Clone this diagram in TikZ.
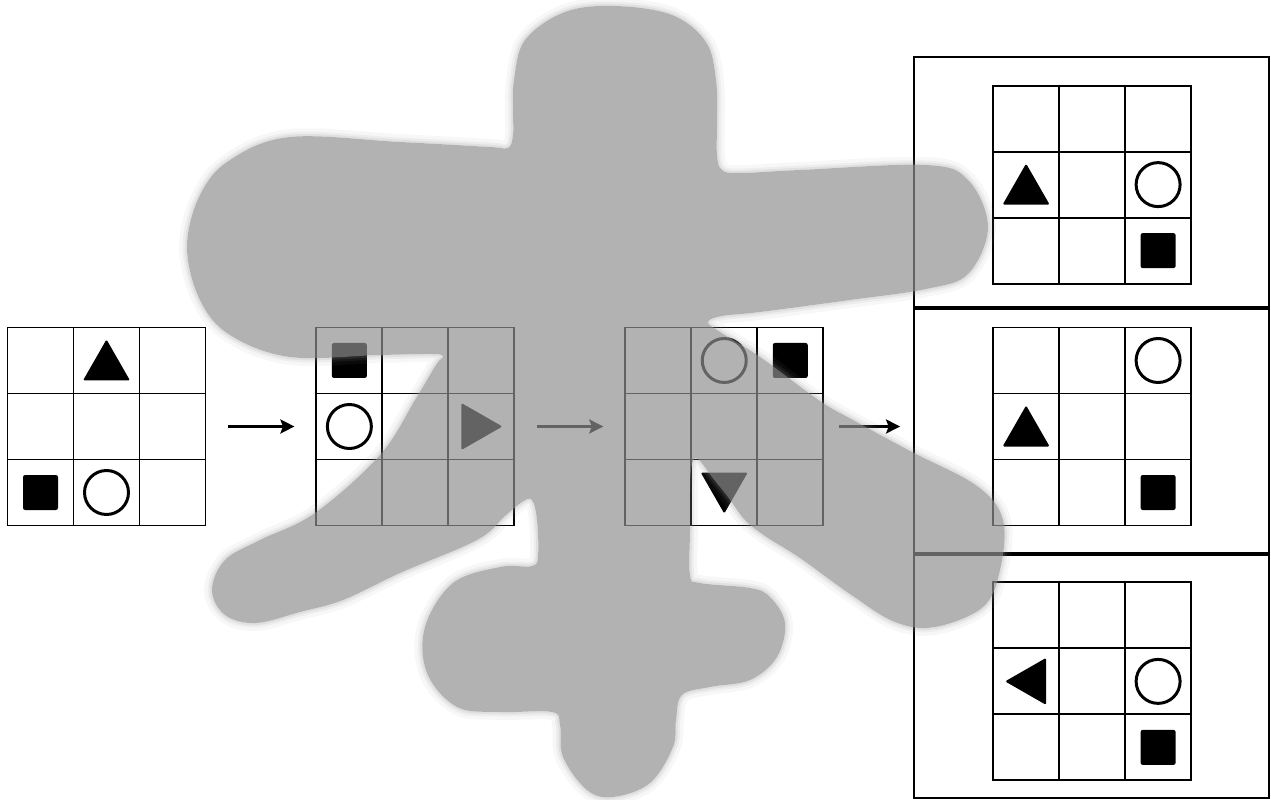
\documentclass[tikz,border=0pt]{standalone}
\usepackage{tikz}
\usetikzlibrary{positioning, arrows.meta, calc}

\definecolor{blobgray}{gray}{0.565}

\newcommand{\putsq}[3]{\fill [piece, rounded corners=1.2pt] ($(#1)+({(#3-1)*66-17.5},{(#2-1)*66-17.5})$) rectangle ++(35,35);}
\newcommand{\putring}[3]{\draw [ring] ($(#1)+({(#3-1)*66},{(#2-1)*66})$) circle [radius=0.44cm];}
\newcommand{\puttri}[4]{\fill [piece, rounded corners=0.8pt, shift={($(#1)+({(#3-1)*66},{(#2-1)*66})$)}, rotate=#4] (0,-21) -- (23.5,20) -- (-23.5,20) -- cycle;}

\def\blobpath{plot [smooth cycle, tension=0.6] coordinates {(615,6) (672,15) (706,42) (716,80) (717,120) (717,155) (722,170) (740,173) (800,170) (926,165) (968,180) (988,227) (968,274) (926,289) (850,300) (760,312) (722,316) (708,322) (720,332) (760,357) (820,401) (853,420) (912,452) (977,486) (1003,520) (1000,570) (983,607) (935,627) (895,622) (850,594) (800,558) (765,536) (745,520) (728,497) (712,477) (698,459) (692,464) (690,490) (690,530) (690,575) (700,583) (750,588) (770,597) (785,623) (777,657) (750,680) (710,687) (682,695) (676,720) (673,747) (650,783) (613,797) (587,790) (563,757) (560,725) (552,712) (500,712) (457,707) (427,673) (425,627) (453,583) (500,567) (532,566) (538,555) (537,520) (532,500) (522,502) (505,516) (477,540) (400,573) (343,600) (300,612) (256,623) (225,615) (212,590) (225,560) (260,540) (315,513) (380,455) (415,400) (436,365) (443,356) (430,354) (380,355) (290,357) (230,335) (200,300) (187,247) (200,195) (230,160) (290,137) (400,142) (490,147) (508,148) (513,135) (513,110) (514,80) (525,40) (565,12)}}

\begin{document}
\begin{tikzpicture}[x=0.02cm, y=-0.02cm,
    board/.style={draw, line width=1.1pt, minimum size=3.96cm, inner sep=0pt,
      path picture={
        \foreach \t in {1,2} {
          \draw [line width=1.1pt] ($(path picture bounding box.north west)!\t/3!(path picture bounding box.north east)$) -- ($(path picture bounding box.south west)!\t/3!(path picture bounding box.south east)$);
          \draw [line width=1.1pt] ($(path picture bounding box.north west)!\t/3!(path picture bounding box.south west)$) -- ($(path picture bounding box.north east)!\t/3!(path picture bounding box.south east)$);
        }}},
    panel/.style={draw, line width=1.1pt, minimum width=7.1cm, inner sep=0pt},
    piece/.style={fill=black},
    ring/.style={draw=black, line width=1.7pt},
    steparrow/.style={line width=1.8pt, -{Stealth[length=8pt, width=8pt, inset=1.5pt]}},
    blob/.style={fill=blobgray, fill opacity=0.69}]
    \useasboundingbox (0,0) rectangle (1271,800);

    \node (g1) [board] at (106.5,426.5) {};
    \node (g2) [board, right=2.18cm of g1] {};
    \node (g3) [board, right=2.18cm of g2] {};

    \node (p1) [panel, minimum height=5cm] at (1091.5,182) {};
    \node (p2) [panel, minimum height=4.92cm] at (1091.5,430) {};
    \node (p3) [panel, minimum height=4.9cm] at (1091.5,675.5) {};
    \draw [line width=2pt] (p1.south west) -- (p1.south east);
    \draw [line width=2pt] (p2.south west) -- (p2.south east);

    \node (a2) [board, right=3.36cm of g3] {};
    \node (a1) [board, above=0.84cm of a2] {};
    \node (a3) [board, below=1.1cm of a2] {};

    \puttri{g1}{0}{1}{0} \putsq{g1}{2}{0} \putring{g1}{2}{1}
    \putsq{g2}{0}{0} \putring{g2}{1}{0} \puttri{g2}{1}{2}{-90}
    \putring{g3}{0}{1} \putsq{g3}{0}{2} \puttri{g3}{2}{1}{180}
    \puttri{a1}{1}{0}{0} \putring{a1}{1}{2} \putsq{a1}{2}{2}
    \putring{a2}{0}{2} \puttri{a2}{1}{0}{0} \putsq{a2}{2}{2}
    \puttri{a3}{1}{0}{90} \putring{a3}{1}{2} \putsq{a3}{2}{2}

    \draw [steparrow, shorten <=0.43cm, shorten >=0.42cm] (g1.east) -- (g2.west);
    \draw [steparrow, shorten <=0.43cm, shorten >=0.42cm] (g2.east) -- (g3.west);
    \draw [steparrow, shorten <=0.3cm, shorten >=0.26cm] (g3.east) -- (g3.east -| p2.west);

    \fill [blob] \blobpath;
    \begin{scope}[even odd rule]
        \clip (-20,-20) rectangle (1291,820) \blobpath;
        \draw [blobgray, line width=9pt, opacity=0.07] \blobpath;
        \draw [blobgray, line width=5pt, opacity=0.1] \blobpath;
        \draw [blobgray, line width=2.5pt, opacity=0.14] \blobpath;
    \end{scope}
\end{tikzpicture}
\end{document}
